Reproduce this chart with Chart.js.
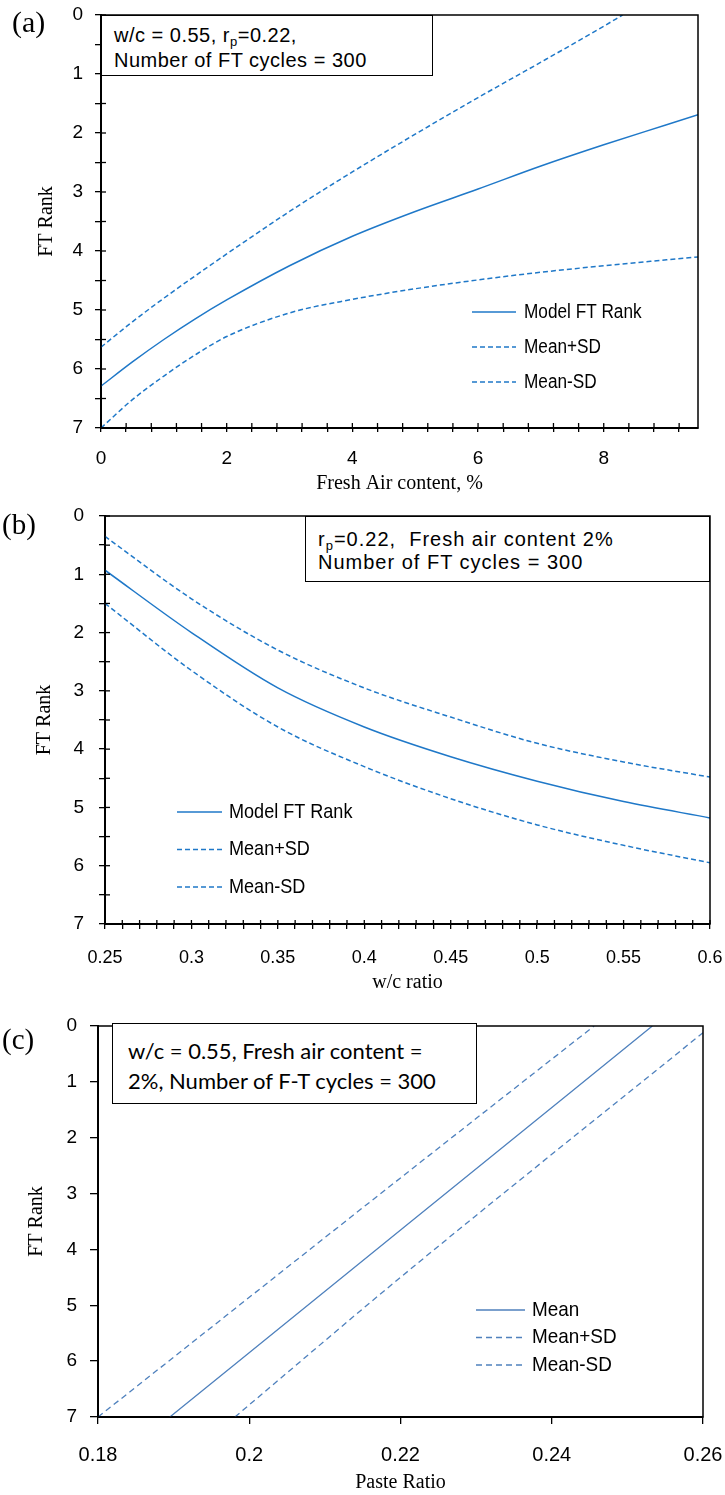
<!DOCTYPE html>
<html>
<head>
<meta charset="utf-8">
<script src="https://cdn.jsdelivr.net/npm/chart.js@4.4.1/dist/chart.umd.min.js"></script>
<style>
  body { margin: 0; background: #fff; }
  #page { position: relative; width: 725px; height: 1495px; overflow: hidden; background: #fff; }
  .panel { position: absolute; left: 0; width: 725px; }
  .note { position: absolute; box-sizing: border-box; border: 1.5px solid #000; background: #fff; color: #000; white-space: nowrap; }
  .note sub { font-size: 13px; vertical-align: -4px; line-height: 0; }
  .tag { position: absolute; font-family: 'Liberation Serif', 'Times New Roman', serif; color: #000; line-height: 1; }
</style>
</head>
<body>
<div id="page">
  <div class="panel" style="top:0;height:500px"><canvas id="chartA"></canvas></div>
  <div class="panel" style="top:490px;height:510px"><canvas id="chartB"></canvas></div>
  <div class="panel" style="top:1000px;height:495px"><canvas id="chartC"></canvas></div>

  <div class="tag" style="left:12px;top:7px;font-size:30px">(a)</div>
  <div class="tag" style="left:2px;top:510px;font-size:29px">(b)</div>
  <div class="tag" style="left:2px;top:1025px;font-size:29px">(c)</div>

  <div class="note" style="left:101px;top:15px;width:332px;height:61px;padding:7px 0 0 12px;font:20px 'Liberation Sans',Arial,sans-serif;line-height:25px;letter-spacing:0.5px">
    w/c = 0.55, r<sub>p</sub>=0.22,<br>Number of FT cycles = 300
  </div>
  <div class="note" style="left:305px;top:516px;width:405px;height:66px;padding:11px 0 0 12px;font:20px 'Liberation Sans',Arial,sans-serif;line-height:23px;letter-spacing:1px">
    r<sub>p</sub>=0.22,&nbsp; Fresh air content 2%<br>Number of FT cycles = 300
  </div>
  <div class="note" style="left:112px;top:1023px;width:365px;height:81px;padding:12px 0 0 15px;font:22px Lato,'Open Sans',sans-serif;line-height:30px">
    w/c = 0.55, Fresh air content =<br>2%, Number of F-T cycles = 300
  </div>
</div>

<script>
// ---- (a) FT rank vs fresh air content ----
const airX       = [0, 0.5, 1, 1.5, 2, 3, 4, 5, 6, 7, 8, 9, 9.5];
const airModel   = [6.29, 5.88, 5.5, 5.15, 4.83, 4.25, 3.75, 3.33, 2.95, 2.56, 2.2, 1.86, 1.69];
const airPlusX   = [0, 0.5, 1, 1.5, 2, 3, 4, 5, 6, 7, 8, 8.3];
const airPlus    = [5.63, 5.2, 4.8, 4.42, 4.05, 3.33, 2.66, 2.02, 1.4, 0.8, 0.19, 0];
const airMinus   = [7.0, 6.52, 6.12, 5.76, 5.45, 5.05, 4.82, 4.64, 4.49, 4.36, 4.25, 4.15, 4.1];

// ---- (b) FT rank vs w/c ratio ----
const wcX        = [0.25, 0.3, 0.35, 0.4, 0.45, 0.5, 0.55, 0.6];
const wcModel    = [0.93, 2.0, 2.95, 3.62, 4.13, 4.55, 4.9, 5.18];
const wcPlus     = [0.35, 1.42, 2.3, 2.95, 3.45, 3.9, 4.22, 4.48];
const wcMinus    = [1.5, 2.65, 3.62, 4.3, 4.85, 5.3, 5.65, 5.95];

// ---- (c) FT rank vs paste ratio ----
const pasteMeanX  = [0.1895, 0.2205, 0.2533];
const pasteMean   = [7, 3.6, 0];
const pastePlusX  = [0.18, 0.22, 0.2456];
const pastePlus   = [7, 2.72, 0];
const pasteMinusX = [0.1981, 0.22, 0.26];
const pasteMinus  = [7, 4.5, 0.12];

const labelsA = ['Model FT Rank', 'Mean+SD', 'Mean-SD'];
const labelsC = ['Mean', 'Mean+SD', 'Mean-SD'];

const BLUE = '#1f78c8';
const BLUE_C = '#4f81bd';
const SERIF = "'Liberation Serif', 'Times New Roman', serif";
const SANS = "'Liberation Sans', Arial, sans-serif";

const pts = (xs, ys) => xs.map((x, i) => ({ x, y: ys[i] }));
const near = (v, step) => Math.abs(v / step - Math.round(v / step)) < 1e-6;

// box around the plot area + inward halves of the tick marks
const framePlugin = {
  id: 'frame',
  afterDraw(chart, args, opts) {
    const { ctx, chartArea: a } = chart;
    ctx.save();
    ctx.strokeStyle = '#000';
    ctx.lineWidth = opts.width || 1.5;
    ctx.strokeRect(a.left, a.top, a.right - a.left, a.bottom - a.top);
    ctx.lineWidth = 1.3;
    if (opts.inX) {
      chart.scales.x.ticks.forEach(t => {
        const px = chart.scales.x.getPixelForValue(t.value);
        ctx.beginPath(); ctx.moveTo(px, a.bottom); ctx.lineTo(px, a.bottom - opts.inX); ctx.stroke();
      });
    }
    if (opts.inY) {
      chart.scales.y.ticks.forEach(t => {
        const py = chart.scales.y.getPixelForValue(t.value);
        ctx.beginPath(); ctx.moveTo(a.left, py); ctx.lineTo(a.left + opts.inY, py); ctx.stroke();
      });
    }
    ctx.restore();
  }
};

// legend drawn inside the plot (text squeezed to a narrow face)
const innerLegend = {
  id: 'innerLegend',
  afterDraw(chart, args, o) {
    const { ctx } = chart;
    ctx.save();
    ctx.font = o.font;
    ctx.textBaseline = 'middle';
    chart.data.datasets.forEach((ds, i) => {
      const y = o.y + i * o.gap;
      ctx.strokeStyle = ds.borderColor;
      ctx.lineWidth = ds.borderWidth;
      ctx.setLineDash(ds.borderDash || []);
      ctx.beginPath(); ctx.moveTo(o.x, y); ctx.lineTo(o.x + o.len, y); ctx.stroke();
      ctx.setLineDash([]);
      ctx.fillStyle = '#000';
      const tx = o.x + o.len + o.textGap;
      ctx.save();
      ctx.translate(tx, y);
      ctx.scale(o.squeeze, 1);
      ctx.fillText(ds.label, 0, 0);
      ctx.restore();
    });
    ctx.restore();
  }
};

function line(label, data, color, width, dash) {
  return {
    label, data, borderColor: color, backgroundColor: color, borderWidth: width,
    borderDash: dash, pointRadius: 0, fill: false, cubicInterpolationMode: 'monotone'
  };
}

function makeChart(id, cfg) {
  return new Chart(document.getElementById(id), {
    type: 'line',
    data: { datasets: cfg.datasets },
    options: {
      responsive: true,
      maintainAspectRatio: false,
      animation: false,
      layout: { padding: cfg.padding },
      plugins: {
        legend: { display: false },
        tooltip: { enabled: false },
        frame: cfg.frame,
        innerLegend: cfg.legend
      },
      scales: {
        x: {
          type: 'linear',
          min: cfg.x.min, max: cfg.x.max,
          afterFit: s => { s.height = cfg.x.height; s.paddingLeft = 0; s.paddingRight = 0; },
          border: { display: true, color: '#000', width: cfg.axisWidth },
          grid: { drawOnChartArea: false, drawTicks: true, tickLength: cfg.x.tick, color: '#000', lineWidth: 1.3 },
          ticks: {
            stepSize: cfg.x.step, includeBounds: false, autoSkip: false, maxRotation: 0,
            padding: cfg.x.pad, color: '#000', font: cfg.x.font,
            callback: cfg.x.label
          },
          title: { display: true, text: cfg.x.title, color: '#000', font: { family: SERIF, size: 20 }, padding: { top: 0, bottom: cfg.x.titlePad } }
        },
        y: {
          type: 'linear',
          reverse: true, min: 0, max: 7,
          afterFit: s => { s.width = cfg.y.width; s.paddingTop = 0; s.paddingBottom = 0; },
          border: { display: true, color: '#000', width: cfg.axisWidth },
          grid: { drawOnChartArea: false, drawTicks: true, tickLength: cfg.y.tick, color: '#000', lineWidth: 1.3 },
          ticks: {
            stepSize: cfg.y.step, autoSkip: false, padding: cfg.y.pad, color: '#000', font: cfg.y.font,
            callback: v => Number.isInteger(v) ? String(v) : ''
          },
          title: { display: true, text: 'FT Rank', color: '#000', font: { family: SERIF, size: 20 }, padding: { top: cfg.y.titlePad, bottom: 0 } }
        }
      }
    },
    plugins: [framePlugin, innerLegend]
  });
}

makeChart('chartA', {
  datasets: [
    line(labelsA[0], pts(airX, airModel), BLUE, 1.5, []),
    line(labelsA[1], pts(airPlusX, airPlus), BLUE, 1.5, [5, 3]),
    line(labelsA[2], pts(airX, airMinus), BLUE, 1.5, [5, 3])
  ],
  padding: { left: 0, top: 15, right: 27, bottom: 0 },
  axisWidth: 2,
  frame: { width: 1.5, inX: 5, inY: 5 },
  legend: { x: 472, y: 312, gap: 35, len: 44, textGap: 8, font: '20px ' + SANS, squeeze: 0.86 },
  x: { min: 0, max: 9.5, step: 0.4, height: 72, tick: 4, pad: 15, titlePad: 4,
       font: { family: SANS, size: 19 }, title: 'Fresh Air content, %',
       label: v => near(v, 2) ? String(Math.round(v)) : '' },
  y: { width: 101, step: 0.5, tick: 6, pad: 12, titlePad: 35, font: { family: SANS, size: 19 } }
});

makeChart('chartB', {
  datasets: [
    line(labelsA[0], pts(wcX, wcModel), BLUE, 1.5, []),
    line(labelsA[1], pts(wcX, wcPlus), BLUE, 1.5, [5, 3]),
    line(labelsA[2], pts(wcX, wcMinus), BLUE, 1.5, [5, 3])
  ],
  padding: { left: 0, top: 26, right: 15, bottom: 0 },
  axisWidth: 2,
  frame: { width: 1.5, inX: 4, inY: 5 },
  legend: { x: 177, y: 322, gap: 37.5, len: 45, textGap: 7, font: '21px ' + SANS, squeeze: 0.86 },
  x: { min: 0.25, max: 0.6, step: 0.01, height: 76, tick: 5, pad: 18, titlePad: 5,
       font: { family: SANS, size: 18 }, title: 'w/c ratio',
       label: v => near(v, 0.05) ? String(parseFloat(v.toFixed(2))) : '' },
  y: { width: 105, step: 0.5, tick: 6, pad: 15, titlePad: 33, font: { family: SANS, size: 19 } }
});

makeChart('chartC', {
  datasets: [
    line(labelsC[0], pts(pasteMeanX, pasteMean), BLUE_C, 1.3, []),
    line(labelsC[1], pts(pastePlusX, pastePlus), BLUE_C, 1.3, [6, 4]),
    line(labelsC[2], pts(pasteMinusX, pasteMinus), BLUE_C, 1.3, [6, 4])
  ],
  padding: { left: 0, top: 26, right: 22, bottom: 0 },
  axisWidth: 2,
  frame: { width: 1.5 },
  legend: { x: 476, y: 310, gap: 27.5, len: 49, textGap: 7, font: '21px ' + SANS, squeeze: 0.9 },
  x: { min: 0.18, max: 0.26, step: 0.02, height: 78, tick: 7, pad: 19, titlePad: 0,
       font: { family: SANS, size: 20 }, title: 'Paste Ratio',
       label: v => String(parseFloat(v.toFixed(2))) },
  y: { width: 98, step: 1, tick: 8, pad: 13, titlePad: 25, font: { family: SANS, size: 19 } }
});
</script>
</body>
</html>
